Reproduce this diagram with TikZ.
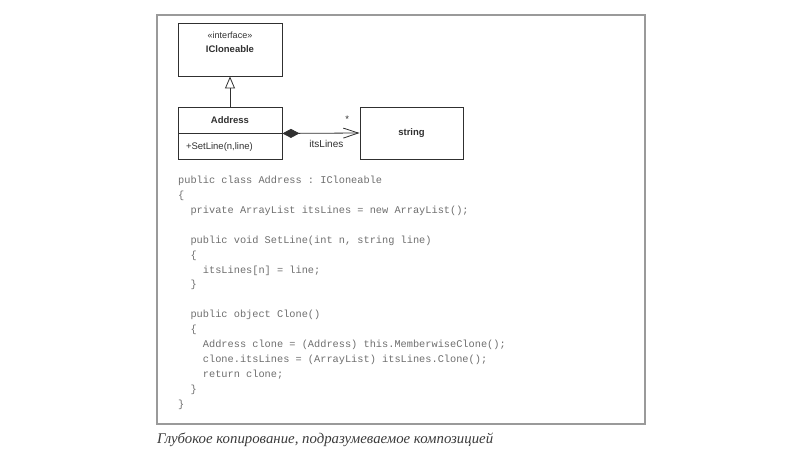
\documentclass[tikz,border=0pt]{standalone}
\usepackage{fontspec}
\setmainfont{Liberation Serif}
\setsansfont{Liberation Sans}
\setmonofont{Liberation Mono}
\usetikzlibrary{arrows.meta, positioning}

\definecolor{framegray}{HTML}{9A9A9A}
\definecolor{codegray}{HTML}{6E6E6E}
\definecolor{umlgray}{HTML}{303030}
\definecolor{captiongray}{HTML}{3A3A3A}

\tikzset{
  umlbox/.style={rectangle, draw=umlgray, line width=0.9pt, minimum width=104pt, inner sep=0pt},
  umltext/.style={font=\sffamily\fontsize{9.5}{11}\selectfont, text=umlgray},
  umlline/.style={draw=umlgray, line width=0.8pt},
}

\begin{document}
\begin{tikzpicture}[x=1pt, y=-1pt, node distance=0pt]
\useasboundingbox (0,0) rectangle (800,450);
% Frame
\draw[framegray, line width=1.6pt] (157,15) rectangle (645,424);

% Classes
\node (icloneable) [umlbox, minimum height=53pt] at (230,49.5) {};
\node (icloneabletitle) [umltext, align=center, inner sep=0pt, below=9pt of icloneable.north, font=\sffamily\fontsize{9.5}{14}\selectfont] {{\fontsize{9}{14}\selectfont «interface»}\\ \textbf{ICloneable}};
\node (address) [umlbox, umltext, minimum height=26pt] at (230,120) {\textbf{Address}};
\node (addressops) [umlbox, umltext, minimum height=26pt, text width=88pt, inner xsep=8pt, align=left, below=of address] {+SetLine(n,line)};
\node (string) [umlbox, umltext, minimum width=103pt, minimum height=52pt] at (411.5,133) {\textbf{string}};

% Edges
\draw[umlline, -{Triangle[open, length=12pt, width=10pt]}] (address) -- (icloneable);
\draw[umlline, {Diamond[length=17pt, width=9pt]}-{Straight Barb[length=15pt, width=10pt]}] (address.south east) -- (string.west)
  node[pos=0.84, above=7pt, umltext] {*}
  node[pos=0.57, below=3pt, umltext, font=\sffamily\fontsize{10}{12}\selectfont] {itsLines};

% Code
\node (listing) [anchor=north west, align=left, inner sep=0pt, text=codegray, font=\ttfamily\fontsize{10.3}{14.9}\selectfont] at (178,176) {%
public class Address : ICloneable\\
\{\\
\ \ private ArrayList itsLines = new ArrayList();\\[14.9pt]
\ \ public void SetLine(int n, string line)\\
\ \ \{\\
\ \ \ \ itsLines[n] = line;\\
\ \ \}\\[14.9pt]
\ \ public object Clone()\\
\ \ \{\\
\ \ \ \ Address clone = (Address) this.MemberwiseClone();\\
\ \ \ \ clone.itsLines = (ArrayList) itsLines.Clone();\\
\ \ \ \ return clone;\\
\ \ \}\\
\}};

% Caption
\node (caption) [anchor=west, inner sep=0pt, text=captiongray, font=\itshape\fontsize{14.8}{16}\selectfont] at (157,440) {Глубокое копирование, подразумеваемое композицией};
\end{tikzpicture}
\end{document}
